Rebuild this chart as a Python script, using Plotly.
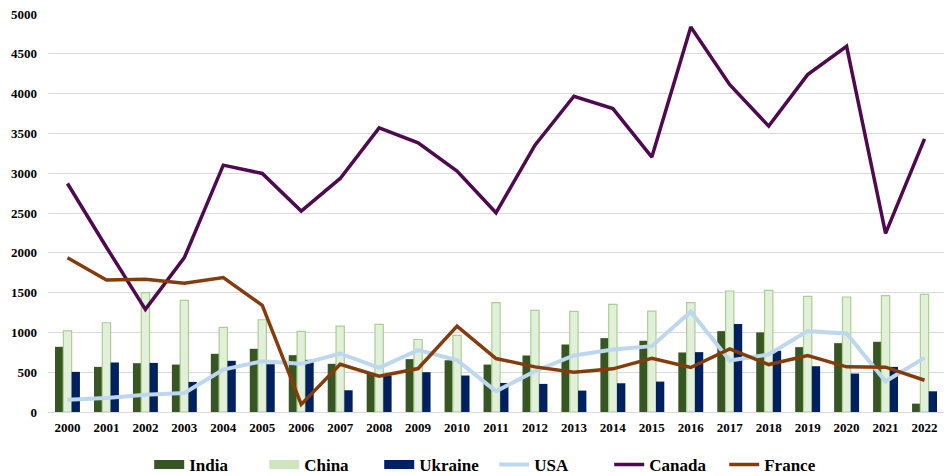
import plotly.graph_objects as go

years = [str(y) for y in range(2000, 2023)]

india = [819, 567, 613, 596, 731, 794, 714, 605, 480, 664, 650,
         596, 710, 848, 928, 895, 748, 1016, 1000, 815, 865, 882, 105]
china = [1020, 1121, 1500, 1403, 1063, 1159, 1012, 1079, 1100, 911, 962,
         1373, 1277, 1264, 1352, 1268, 1373, 1520, 1529, 1453, 1445, 1462, 1478]
ukraine = [504, 622, 617, 378, 643, 600, 655, 273, 460, 500, 458,
           365, 353, 269, 361, 382, 752, 1105, 769, 575, 483, 567, 260]
usa = [155, 176, 218, 240, 533, 638, 605, 735, 554, 777, 651,
       260, 512, 710, 785, 827, 1260, 647, 722, 1016, 987, 386, 680]
canada = [2871, 2070, 1290, 1939, 3101, 2997, 2524, 2934, 3570, 3382, 3026,
          2503, 3352, 3967, 3812, 3202, 4837, 4113, 3591, 4239, 4594, 2244, 3432]
france = [1939, 1659, 1667, 1617, 1688, 1341, 95, 600, 449, 546, 1079,
          672, 567, 500, 542, 676, 559, 794, 596, 710, 567, 563, 399]

y_ticks = list(range(0, 5001, 500))

FONT = "Liberation Serif"
C_INDIA, C_CHINA, C_CHINA_EDGE, C_UKR = "#375623", "#E2EFDA", "#A9D18E", "#002060"

fig = go.Figure()
fig.add_trace(go.Bar(name="India", x=years, y=india, showlegend=False,
                     marker=dict(color=C_INDIA, line=dict(width=0))))
fig.add_trace(go.Bar(name="China", x=years, y=china, showlegend=False,
                     marker=dict(color=C_CHINA, line=dict(color=C_CHINA_EDGE, width=1.2))))
fig.add_trace(go.Bar(name="Ukraine", x=years, y=ukraine, showlegend=False,
                     marker=dict(color=C_UKR, line=dict(width=0))))

# legend-only entries drawn as wide swatches (like the original legend)
fig.add_trace(go.Scatter(name="India", x=[None], y=[None], mode="lines",
                         line=dict(color=C_INDIA, width=9)))
fig.add_trace(go.Scatter(name="China", x=[None], y=[None], mode="lines",
                         line=dict(color="#CFE5C0", width=9)))
fig.add_trace(go.Scatter(name="Ukraine", x=[None], y=[None], mode="lines",
                         line=dict(color=C_UKR, width=9)))

fig.add_trace(go.Scatter(name="USA", x=years, y=usa, mode="lines",
                         line=dict(color="#BDD7EE", width=4)))
fig.add_trace(go.Scatter(name="Canada", x=years, y=canada, mode="lines",
                         line=dict(color="#4F0A4F", width=3.5)))
fig.add_trace(go.Scatter(name="France", x=years, y=france, mode="lines",
                         line=dict(color="#843C0C", width=3.5)))

fig.update_layout(
    width=947, height=476,
    margin=dict(l=48, r=3, t=14, b=64, autoexpand=False),
    paper_bgcolor="white", plot_bgcolor="white",
    barmode="group", bargap=0.36, bargroupgap=0,
    font=dict(family=FONT, color="#000000"),
    showlegend=True,
    legend=dict(orientation="h", x=0.498, xanchor="center", y=-0.088, yanchor="top",
                font=dict(family=FONT, size=17, weight="bold"),
                entrywidth=70, entrywidthmode="pixels",
                traceorder="normal", bgcolor="rgba(0,0,0,0)"),
    xaxis=dict(type="category", showgrid=False, showline=False, ticks="",
               tickfont=dict(family=FONT, size=13, weight="bold"),
               ticklabelstandoff=6, automargin=False),
    yaxis=dict(range=[0, 5000], tickvals=y_ticks, showgrid=True, gridcolor="#D9D9D9",
               gridwidth=1.3, zeroline=True, zerolinecolor="#D9D9D9", zerolinewidth=1.3,
               showline=False, ticks="",
               tickfont=dict(family=FONT, size=13, weight="bold"),
               ticklabelstandoff=10, automargin=False),
)

fig.write_html("out.html", config={"displayModeBar": False},
               post_script="document.body.style.margin='0';document.body.style.overflow='hidden';")
